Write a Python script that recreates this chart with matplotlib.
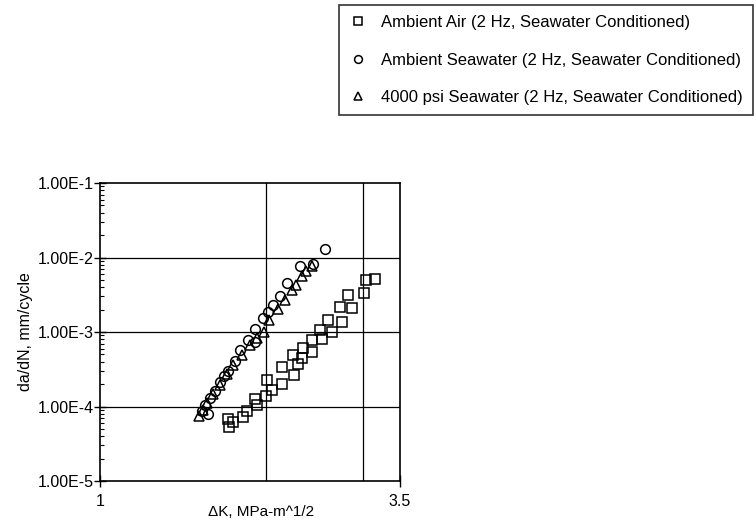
import matplotlib.pyplot as plt
from matplotlib.ticker import FixedLocator, NullFormatter, LogLocator, FixedFormatter

plt.rcParams['font.family'] = ['Liberation Sans', 'DejaVu Sans']

# Ambient Air (squares)
air_dk = [1.709, 1.714, 1.745, 1.815, 1.850, 1.910, 1.924, 1.998, 2.006, 2.048,
          2.136, 2.136, 2.236, 2.248, 2.283, 2.322, 2.337, 2.421, 2.427, 2.506,
          2.530, 2.595, 2.638, 2.724, 2.744, 2.820, 2.868, 3.015, 3.037, 3.153]
air_rate = [6.87e-5, 5.30e-5, 6.19e-5, 7.23e-5, 8.70e-5, 1.28e-4, 1.04e-4, 1.37e-4, 2.25e-4, 1.65e-4,
            3.40e-4, 1.99e-4, 4.99e-4, 2.69e-4, 3.69e-4, 4.54e-4, 6.11e-4, 7.76e-4, 5.40e-4, 1.06e-3,
            8.00e-4, 1.47e-3, 1.00e-3, 2.17e-3, 1.37e-3, 3.12e-3, 2.07e-3, 3.29e-3, 4.97e-3, 5.13e-3]

# Ambient Seawater (circles)
sw_dk = [1.528, 1.572, 1.550, 1.583, 1.616, 1.651, 1.678, 1.707, 1.757, 1.794,
         1.855, 1.910, 1.910, 1.975, 2.017, 2.059, 2.121, 2.184, 2.305, 2.434, 2.559]
sw_rate = [8.61e-5, 7.85e-5, 1.04e-4, 1.29e-4, 1.60e-4, 2.11e-4, 2.55e-4, 2.97e-4, 4.05e-4, 5.69e-4,
           7.76e-4, 7.29e-4, 1.09e-3, 1.53e-3, 1.85e-3, 2.29e-3, 3.03e-3, 4.53e-3, 7.66e-3, 8.15e-3, 1.30e-2]

# 4000 psi Seawater (triangles)
hp_dk = [1.515, 1.537, 1.563, 1.603, 1.651, 1.700, 1.743, 1.809, 1.871, 1.926,
         1.984, 2.025, 2.103, 2.165, 2.229, 2.267, 2.325, 2.364, 2.424]
hp_rate = [7.38e-5, 8.89e-5, 1.10e-4, 1.46e-4, 1.93e-4, 2.71e-4, 3.58e-4, 4.88e-4, 6.65e-4, 8.26e-4,
           9.94e-4, 1.44e-3, 2.02e-3, 2.68e-3, 3.65e-3, 4.26e-3, 5.62e-3, 6.57e-3, 7.66e-3]

labels = ['Ambient Air (2 Hz, Seawater Conditioned)',
          'Ambient Seawater (2 Hz, Seawater Conditioned)',
          '4000 psi Seawater (2 Hz, Seawater Conditioned)']
y_ticks = [1e-5, 1e-4, 1e-3, 1e-2, 1e-1]
y_ticklabels = ['1.00E-5', '1.00E-4', '1.00E-3', '1.00E-2', '1.00E-1']

fig = plt.figure(figsize=(7.56, 5.22), dpi=100)
ax = fig.add_axes([0.1323, 0.0785, 0.3968, 0.5709])

ms = 6.5
h1, = ax.plot(air_dk, air_rate, 's', ms=ms, mfc='none', mec='black', mew=1.1)
h2, = ax.plot(sw_dk, sw_rate, 'o', ms=ms + 0.5, mfc='none', mec='black', mew=1.1)
h3, = ax.plot(hp_dk, hp_rate, '^', ms=ms + 0.5, mfc='none', mec='black', mew=1.1)

ax.set_xscale('log')
ax.set_yscale('log')
ax.set_xlim(1, 3.5)
ax.set_ylim(1e-5, 1e-1)

ax.xaxis.set_major_locator(FixedLocator([1, 3.5]))
ax.xaxis.set_major_formatter(FixedFormatter(['1', '3.5']))
ax.xaxis.set_minor_locator(FixedLocator([]))
ax.set_yticks(y_ticks)
ax.set_yticklabels(y_ticklabels)
ax.yaxis.set_minor_locator(LogLocator(base=10, subs=range(2, 10)))
ax.yaxis.set_minor_formatter(NullFormatter())

for xv in [2, 3]:
    ax.axvline(xv, color='black', lw=0.9)
for yv in y_ticks[1:-1]:
    ax.axhline(yv, color='black', lw=0.9)

for s in ax.spines.values():
    s.set_linewidth(1.2)
ax.tick_params(axis='both', which='major', direction='inout', length=9, width=1, labelsize=11.5)
ax.tick_params(axis='y', which='minor', direction='in', length=3, width=0.8)
ax.tick_params(axis='y', which='major', pad=0)
ax.tick_params(axis='x', which='major', pad=5)

ax.set_xlabel('\u0394K, MPa-m^1/2', fontsize=11)
ax.xaxis.set_label_coords(0.537, -0.079)
ax.set_ylabel('da/dN, mm/cycle', fontsize=11.5, labelpad=3)

leg = fig.legend([h1, h2, h3], labels, loc='upper right', bbox_to_anchor=(0.996, 0.991),
                 fontsize=12, frameon=True, fancybox=False, edgecolor='black',
                 markerscale=0.8, handlelength=1.0, handletextpad=0.9,
                 labelspacing=1.35, borderpad=0.62, borderaxespad=0)
leg.get_frame().set_linewidth(1.2)

fig.savefig('out.png', dpi=100)
